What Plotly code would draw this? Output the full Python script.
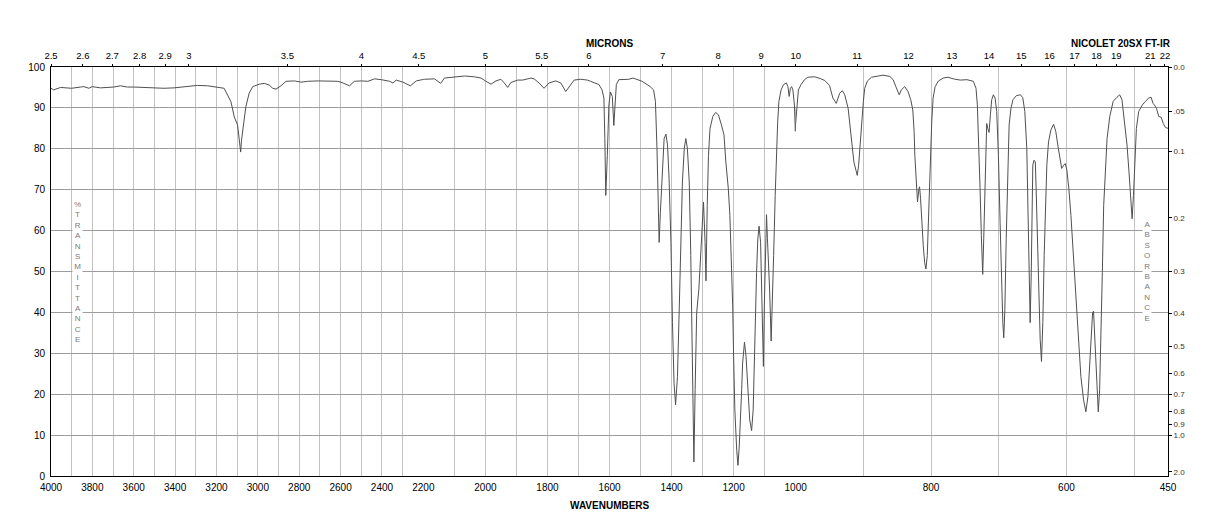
import numpy as np
import plotly.graph_objects as go

# ---------------- data ----------------
wavenumber = [
    4000, 3987, 3954, 3901, 3857, 3841, 3817, 3801, 3761, 3696, 3664, 3631, 3599, 3551, 3502,
    3454, 3405, 3365, 3340, 3292, 3243, 3203, 3163, 3130, 3114, 3098, 3090, 3083, 3079, 3069,
    3058, 3042, 3025, 2993, 2969, 2945, 2928, 2912, 2888, 2864, 2823, 2791, 2759, 2710, 2646,
    2613, 2589, 2557, 2533, 2500, 2468, 2436, 2403, 2363, 2347, 2331, 2299, 2263, 2234, 2196,
    2164, 2144, 2132, 2100, 2067, 2035, 2014, 1998, 1982, 1966, 1950, 1939, 1928, 1918, 1896,
    1880, 1853, 1843, 1827, 1811, 1795, 1773, 1757, 1741, 1730, 1714, 1693, 1671, 1661, 1645,
    1634, 1624, 1618, 1615, 1612, 1607, 1602, 1597, 1591, 1586, 1583, 1578, 1570, 1554, 1538,
    1524, 1511, 1495, 1479, 1469, 1458, 1452, 1447, 1443, 1440, 1436, 1432, 1428, 1424, 1418,
    1413, 1408, 1402, 1397, 1392, 1387, 1381, 1375, 1370, 1365, 1359, 1354, 1349, 1343, 1338,
    1333, 1328, 1324, 1319, 1312, 1306, 1301, 1297, 1292, 1289, 1285, 1281, 1276, 1267, 1258,
    1249, 1239, 1231, 1225, 1217, 1212, 1207, 1203, 1200, 1196, 1190, 1186, 1182, 1178, 1174,
    1171, 1168, 1165, 1160, 1156, 1152, 1148, 1142, 1137, 1134, 1131, 1126, 1122, 1118, 1113,
    1110, 1107, 1104, 1101, 1097, 1094, 1091, 1087, 1084, 1079, 1075, 1071, 1066, 1062, 1058,
    1054, 1047, 1039, 1030, 1025, 1021, 1017, 1013, 1009, 1004, 1001, 998.5, 996, 992, 987,
    982, 972, 964, 957, 950, 945, 940, 935, 931, 927.5, 922.5, 919, 916, 914, 911,
    909, 907, 905, 903, 900, 898, 894, 888, 881, 871, 861, 856, 852, 847, 844,
    839, 834, 830, 827, 825, 824, 822, 821, 820, 818, 817, 815.5, 813.5, 811.5, 809.5,
    807.6, 805.6, 803.6, 801.7, 799, 797, 794, 789, 782, 775, 767, 757, 747, 737.5, 733.6,
    731.6, 729.6, 727.6, 725.7, 723.7, 722.2, 720.7, 719.2, 717.8, 716.3, 714.3, 712.4, 710.4, 708, 705.4,
    703, 700.5, 698, 695.6, 694, 692.6, 691, 689, 687, 684.7, 682, 679, 674, 668, 664.5,
    661.5, 658.6, 656.6, 655, 653.6, 652, 650.7, 649.7, 648, 646, 644.8, 642.8, 640.8, 638.8, 636.9,
    634.9, 632.9, 631, 629, 626.5, 623, 619, 615.7, 612, 609, 607, 604, 601.8, 599.4, 596.4,
    593.4, 589.5, 585.6, 582, 578.7, 574.7, 571.3, 568.3, 565.8, 563.4, 561.4, 560, 558, 556, 554,
    553, 551, 549, 547, 545, 542.6, 540, 536, 531, 526, 521.4, 518, 514, 510.5, 507.6,
    505.6, 503, 501, 499, 496.7, 493.3, 488, 483.4, 478.5, 475, 472, 470, 467, 463.7, 460,
    457, 453.8, 450,
]
transmittance = [
    94.8, 94.4, 95.0, 94.8, 95.1, 95.2, 94.8, 95.2, 94.9, 95.1, 95.4, 95.1, 95.1, 95.0, 94.9,
    94.8, 94.9, 95.1, 95.1, 95.5, 95.4, 95.1, 94.8, 91.5, 87.8, 85.8, 81.6, 79.2, 82.1, 86.6,
    90.3, 93.6, 95.2, 95.8, 96.0, 95.6, 94.8, 94.6, 95.4, 96.5, 96.6, 96.3, 96.5, 96.6, 96.6,
    96.5, 96.1, 95.4, 96.5, 96.6, 96.5, 97.1, 96.9, 96.5, 96.1, 96.8, 96.3, 95.4, 96.6, 97.0,
    97.1, 96.0, 97.3, 97.5, 97.8, 97.6, 97.3, 96.5, 95.8, 96.6, 97.0, 96.1, 95.0, 96.2, 96.8,
    96.8, 97.3, 97.1, 96.1, 94.8, 96.1, 96.6, 96.1, 94.0, 95.2, 96.8, 97.0, 96.8, 96.5, 96.1,
    95.7, 94.4, 92.4, 82.5, 68.6, 78.4, 90.7, 93.9, 92.8, 85.7, 90.7, 95.7, 96.9, 97.0, 97.0,
    97.3, 97.0, 96.5, 95.7, 95.2, 94.4, 91.6, 80.1, 68.6, 57.1, 64.5, 71.9, 78.4, 82.5, 83.6,
    80.9, 72.7, 57.1, 37.5, 22.7, 17.4, 24.3, 41.6, 58.0, 71.9, 80.1, 82.5, 80.1, 71.9, 53.9,
    29.3, 3.4, 21.1, 39.9, 45.7, 55.5, 62.0, 67.0, 57.1, 47.7, 66.1, 78.4, 85.0, 87.9, 88.9,
    88.3, 85.8, 83.4, 76.8, 70.2, 63.7, 53.9, 41.6, 29.3, 16.1, 6.3, 2.6, 7.1, 12.9, 21.1,
    27.6, 31.7, 32.7, 29.3, 23.5, 17.8, 13.7, 11.1, 16.1, 25.2, 37.5, 49.8, 58.0, 61.1, 57.1,
    45.7, 33.4, 26.8, 41.6, 57.1, 63.9, 58.0, 51.4, 45.7, 33.0, 41.6, 53.9, 68.6, 78.4, 86.6,
    91.6, 94.4, 95.7, 96.1, 95.2, 92.8, 94.8, 95.2, 94.4, 90.7, 84.3, 89.9, 94.4, 95.7, 96.9,
    97.5, 97.6, 97.2, 96.7, 95.5, 92.4, 91.1, 93.6, 94.2, 93.2, 89.9, 85.0, 80.1, 76.8, 74.8,
    73.5, 76.0, 80.9, 86.6, 91.6, 94.8, 96.6, 97.5, 97.7, 98.0, 97.7, 96.9, 95.2, 93.2, 94.4,
    95.2, 94.0, 92.0, 89.5, 84.2, 78.4, 71.9, 68.6, 67.0, 70.2, 70.7, 67.8, 60.4, 56.3, 52.2,
    50.6, 53.9, 63.7, 76.0, 86.6, 92.4, 95.2, 96.6, 97.3, 97.5, 97.1, 96.8, 96.9, 96.5, 94.8,
    90.7, 82.5, 70.2, 58.8, 49.3, 58.0, 70.2, 80.9, 86.2, 85.0, 84.0, 88.3, 92.0, 93.2, 92.4,
    89.1, 78.4, 62.0, 45.7, 37.5, 33.8, 40.7, 58.0, 74.3, 85.8, 89.9, 92.0, 93.0, 93.2, 92.5,
    89.1, 80.1, 62.0, 45.7, 37.5, 49.8, 66.1, 76.0, 77.2, 76.8, 70.2, 58.0, 44.0, 33.4, 28.0,
    37.5, 53.9, 66.1, 76.0, 81.7, 84.6, 86.0, 84.2, 80.1, 76.8, 75.2, 76.0, 76.4, 74.8, 70.2,
    63.7, 53.9, 43.2, 33.4, 24.3, 18.6, 15.7, 19.4, 27.6, 34.2, 39.9, 40.3, 33.4, 22.7, 17.0,
    15.7, 21.1, 33.4, 49.8, 66.1, 76.0, 82.5, 87.9, 91.6, 92.5, 93.2, 92.0, 86.6, 80.9, 74.3,
    68.6, 62.9, 68.6, 78.4, 85.0, 89.1, 90.7, 91.6, 92.4, 92.6, 91.1, 90.7, 89.9, 87.9, 87.7,
    86.2, 85.2, 85.0,
]

# axis segments (cm-1): the chart changes scale at 2200 and 1000
segments = [(4000, 2200), (2200, 1000), (1000, 450)]
wn_grid_step = 100
wn_labels = [[4000, 3800, 3600, 3400, 3200, 3000, 2800, 2600, 2400, 2200],
             [2000, 1800, 1600, 1400, 1200, 1000],
             [800, 600, 450]]
micron_labels = [["2.5", "2.6", "2.7", "2.8", "2.9", "3", "3.5", "4", "4.5"],
                 ["5", "5.5", "6", "7", "8", "9", "10"],
                 ["11", "12", "13", "14", "15", "16", "17", "18", "19", "21", "22"]]
pct_ticks = list(range(0, 101, 10))
absorbance_ticks = [0.0, 0.05, 0.1, 0.2, 0.3, 0.4, 0.5, 0.6, 0.7, 0.8, 0.9, 1.0, 2.0]
absorbance_text = ["0.0", ".05", "0.1", "0.2", "0.3", "0.4", "0.5", "0.6", "0.7", "0.8", "0.9", "1.0", "2.0"]

# ---------------- figure ----------------
W, H = 1218, 528
ML, MR, MT, MB = 51, 50, 67, 52
FONT = "Liberation Sans, Arial, sans-serif"
LINE = "#505050"
HGRID = "#9c9c9c"
VGRID = "#c2c2c2"

wn = np.array(wavenumber, dtype=float)
tr = np.array(transmittance, dtype=float)

fig = go.Figure()
layout = {}

for i, (hi, lo) in enumerate(segments):
    n = i + 1
    xb = "x" if n == 1 else f"x{n}"
    xt = f"x{n + 3}"
    idx = np.where((wn <= hi) & (wn >= lo))[0]
    i0, i1 = max(idx[0] - 1, 0), min(idx[-1] + 1, len(wn) - 1)
    fig.add_trace(go.Scatter(x=wn[i0:i1 + 1], y=tr[i0:i1 + 1], mode="lines",
                             line=dict(color=LINE, width=1), xaxis=xb, yaxis="y",
                             hoverinfo="skip", showlegend=False))
    # invisible companion trace so the top (micron) axis gets its subplot
    fig.add_trace(go.Scatter(x=wn[i0:i1 + 1], y=tr[i0:i1 + 1], mode="lines",
                             line=dict(color=LINE, width=1), opacity=0, xaxis=xt, yaxis="y",
                             hoverinfo="skip", showlegend=False))

    grid_vals = list(range(int(hi), int(lo) - 1, -wn_grid_step))
    if lo not in grid_vals:
        grid_vals.append(lo)
    if i > 0:
        grid_vals = [v for v in grid_vals if v != hi]  # boundary already drawn by previous segment
    grid_text = [str(v) if v in wn_labels[i] else "" for v in grid_vals]
    layout["xaxis" if n == 1 else f"xaxis{n}"] = dict(
        domain=[i / 3, (i + 1) / 3], range=[hi, lo], anchor="y",
        tickmode="array", tickvals=grid_vals, ticktext=grid_text,
        showgrid=True, gridcolor=VGRID, gridwidth=1,
        showline=True, linecolor="black", linewidth=1,
        ticks="outside", ticklen=2, tickcolor="rgba(0,0,0,0)",
        zeroline=False, tickfont=dict(size=10, color="black", family=FONT),
        fixedrange=True,
    )
    mic_vals = [10000.0 / float(m) for m in micron_labels[i]]
    layout[f"xaxis{n + 3}"] = dict(
        overlaying=xb, side="top", anchor="y", range=[hi, lo],
        tickmode="array", tickvals=mic_vals, ticktext=micron_labels[i],
        ticks="outside", ticklen=2, tickcolor="black", tickwidth=1,
        ticklabelstandoff=1,
        showgrid=False, showline=True, linecolor="black", linewidth=1,
        zeroline=False, tickfont=dict(size=9.5, color="black", family=FONT),
        fixedrange=True,
    )

# invisible trace for the right-hand absorbance axis
fig.add_trace(go.Scatter(x=wn[wn <= 1000], y=tr[wn <= 1000], mode="lines", opacity=0,
                         xaxis="x3", yaxis="y2", hoverinfo="skip", showlegend=False))

layout["yaxis"] = dict(
    range=[0, 100], anchor="x", tickmode="array", tickvals=pct_ticks,
    ticktext=[str(v) for v in pct_ticks],
    showgrid=True, gridcolor=HGRID, gridwidth=1,
    showline=True, linecolor="black", linewidth=1,
    ticks="outside", ticklen=3, tickcolor="rgba(0,0,0,0)",
    zeroline=False, tickfont=dict(size=10, color="black", family=FONT), fixedrange=True,
)
layout["yaxis2"] = dict(
    range=[0, 100], overlaying="y", side="right", anchor="x3",
    tickmode="array", tickvals=[100 * 10 ** (-a) for a in absorbance_ticks],
    ticktext=absorbance_text, ticks="outside", ticklen=3, tickcolor="black",
    showgrid=False, showline=True, linecolor="black", linewidth=1, zeroline=False,
    tickfont=dict(size=8, color="#333333", family=FONT), fixedrange=True,
)

plot_w = W - ML - MR
plot_h = H - MT - MB


def px_to_paper_x(px):
    return (px - ML) / plot_w


def px_to_paper_y(py):
    return (H - MB - py) / plot_h


annotations = [
    dict(text="<b>MICRONS</b>", x=0.5, y=px_to_paper_y(43.5), xref="paper", yref="paper",
         showarrow=False, font=dict(size=10, family=FONT, color="black"),
         xanchor="center", yanchor="middle"),
    dict(text="<b>NICOLET 20SX FT-IR</b>", x=px_to_paper_x(1121), y=px_to_paper_y(43.5),
         xref="paper", yref="paper", showarrow=False,
         font=dict(size=10, family=FONT, color="black"), xanchor="center", yanchor="middle"),
    dict(text="<b>WAVENUMBERS</b>", x=0.5, y=px_to_paper_y(505), xref="paper", yref="paper",
         showarrow=False, font=dict(size=10, family=FONT, color="black"),
         xanchor="center", yanchor="middle"),
    dict(text="<br>".join(list("%TRANSMITTANCE")), x=px_to_paper_x(77), y=50,
         xref="paper", yref="y", showarrow=False, bgcolor="white", borderpad=1,
         font=dict(size=8, family=FONT, color="#7a7a7a"), xanchor="center", yanchor="middle"),
    dict(text="<br>".join(list("ABSORBANCE")), x=px_to_paper_x(1147.3), y=50,
         xref="paper", yref="y", showarrow=False, bgcolor="white", borderpad=1,
         font=dict(size=8, family=FONT, color="#7a7a7a"), xanchor="center", yanchor="middle"),
]

fig.update_layout(
    width=W, height=H,
    margin=dict(l=ML, r=MR, t=MT, b=MB, pad=0),
    paper_bgcolor="white", plot_bgcolor="white",
    showlegend=False, hovermode=False,
    font=dict(family=FONT, size=10, color="black"),
    annotations=annotations,
    **layout,
)

fig.write_html("out.html", config={"displayModeBar": False, "responsive": False})
